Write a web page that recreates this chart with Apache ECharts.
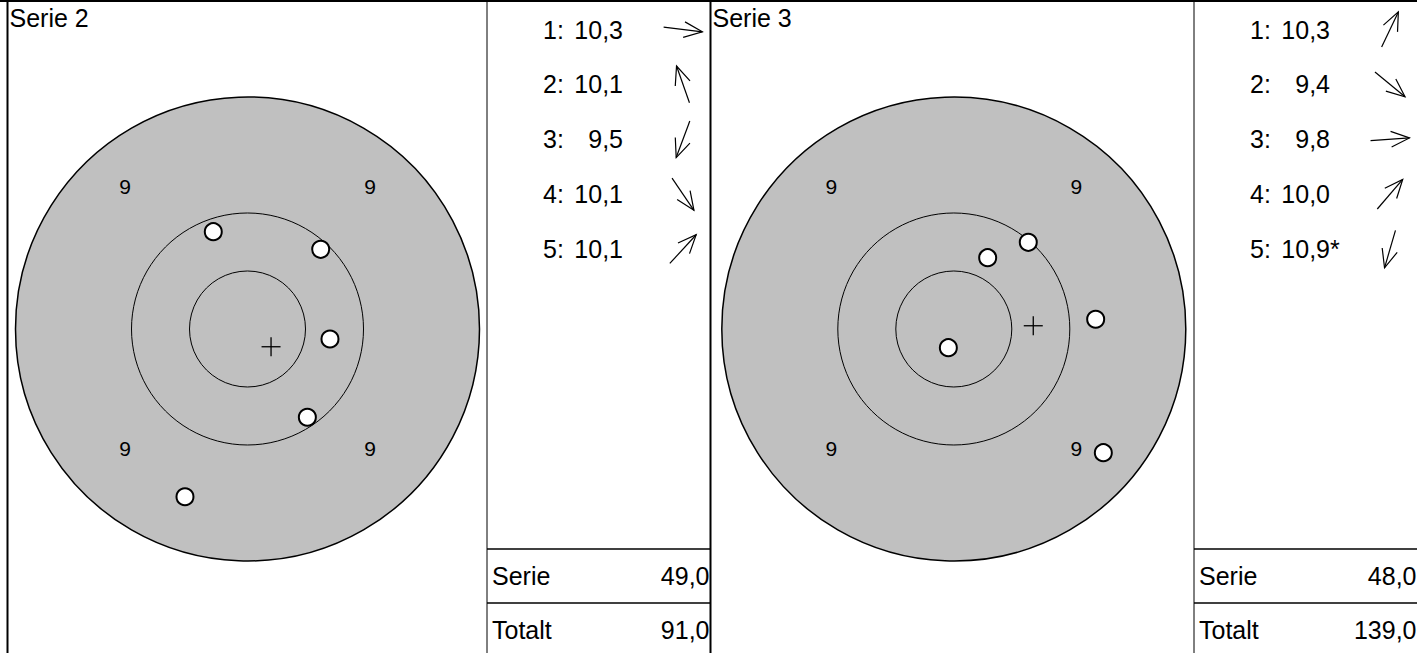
<!DOCTYPE html>
<html>
<head>
<meta charset="utf-8">
<script src="https://cdn.jsdelivr.net/npm/echarts@6/dist/echarts.min.js"></script>
<style>html,body{margin:0;padding:0;background:#fff}#c{width:1417px;height:653px}</style>
</head>
<body>
<div id="c"></div>
<script>
// ---- data (target units: one ring = 10 units) ----
const seriesTitles = ['Serie 2', 'Serie 3'];
const shotNo = ['1', '2', '3', '4', '5'];
const shotsX2 = [7.11, -2.95, -5.39, 5.16, 6.31];
const shotsY2 = [-0.86, 8.39, -14.46, -7.61, 6.87];
const scores2 = [10.3, 10.1, 9.5, 10.1, 10.1];
const innerTen2 = [0, 0, 0, 0, 0];
const mpi2 = [2.03, -1.53];
const shotsX3 = [2.92, 12.89, 12.23, 6.42, -0.47];
const shotsY3 = [6.15, -10.66, 0.84, 7.47, -1.61];
const scores3 = [10.3, 9.4, 9.8, 10.0, 10.9];
const innerTen3 = [0, 0, 0, 0, 1];
const mpi3 = [6.85, 0.28];
const ringRadii = [20, 10, 5];
const ringLabels = ['9', '9', '9', '9'];
const ringLabelX = [-10.56, 10.56, -10.56, 10.56];
const ringLabelY = [12.3, 12.3, -10.3, -10.3];
const sumLabels = ['Serie', 'Totalt'];
const serieSums = [49.0, 48.0];
const runningTotals = [91.0, 139.0];

const FONT = '"Liberation Sans", Arial, Helvetica, sans-serif';
const TS = 25;
const fmt = v => v.toFixed(1).replace('.', ',');

function ringsSeries(gi) {
  return {
    type: 'custom', xAxisIndex: gi, yAxisIndex: gi, clip: false, z: 1,
    data: ringRadii.map(r => [0, 0, r]),
    encode: { x: 0, y: 1 },
    renderItem: (params, api) => {
      const c = api.coord([0, 0]);
      const e = api.coord([api.value(2), 0]);
      const outer = params.dataIndex === 0;
      return { type: 'circle', shape: { cx: c[0], cy: c[1], r: Math.abs(e[0] - c[0]) },
        style: { fill: outer ? '#c0c0c0' : 'none', stroke: '#000', lineWidth: outer ? 1.5 : 1 } };
    }
  };
}
function ringLabelSeries(gi) {
  return {
    type: 'custom', xAxisIndex: gi, yAxisIndex: gi, clip: false, z: 2,
    data: ringLabels.map((t, i) => [ringLabelX[i], ringLabelY[i], t]),
    encode: { x: 0, y: 1 },
    renderItem: (params, api) => {
      const p = api.coord([api.value(0), api.value(1)]);
      return { type: 'text', style: { text: ringLabels[params.dataIndex], x: p[0], y: p[1],
        align: 'center', verticalAlign: 'middle', font: '21px ' + FONT, fill: '#000' } };
    }
  };
}
function shotSeries(gi, xs, ys) {
  return {
    type: 'scatter', xAxisIndex: gi, yAxisIndex: gi, z: 4, symbol: 'circle', symbolSize: 17,
    itemStyle: { color: '#fff', borderColor: '#000', borderWidth: 2, opacity: 1 },
    data: xs.map((x, i) => [x, ys[i]]), silent: true
  };
}
function mpiSeries(gi, m) {
  return {
    type: 'custom', xAxisIndex: gi, yAxisIndex: gi, clip: false, z: 3,
    data: [m], encode: { x: 0, y: 1 },
    renderItem: (params, api) => {
      const p = api.coord([api.value(0), api.value(1)]);
      const h = 9.5;
      return { type: 'group', children: [
        { type: 'line', shape: { x1: p[0] - h, y1: p[1], x2: p[0] + h, y2: p[1] }, style: { stroke: '#000', lineWidth: 1.3 } },
        { type: 'line', shape: { x1: p[0], y1: p[1] - h, x2: p[0], y2: p[1] + h }, style: { stroke: '#000', lineWidth: 1.3 } }
      ] };
    }
  };
}
function scoreSeries(gi, scores, xs, ys, inner) {
  return {
    type: 'custom', xAxisIndex: gi, yAxisIndex: gi, clip: false, z: 5,
    data: scores.map((s, i) => [0, i, s, xs[i], ys[i], inner[i]]),
    encode: { x: 0, y: 1 },
    renderItem: (params, api) => {
      const i = api.value(1);
      const p = api.coord([0, i]);
      const x0 = params.coordSys.x, y = p[1];
      const dx = api.value(3), dy = -api.value(4);
      const len = Math.hypot(dx, dy), ux = dx / len, uy = dy / len;
      const cx = x0 + 196, L = 39;
      const tip = [cx + ux * L / 2, y + uy * L / 2], tail = [cx - ux * L / 2, y - uy * L / 2];
      const a = 23 * Math.PI / 180, hl = 20, bx = -ux, by = -uy;
      const arm = s => [tip[0] + hl * (bx * Math.cos(s * a) - by * Math.sin(s * a)),
                        tip[1] + hl * (bx * Math.sin(s * a) + by * Math.cos(s * a))];
      const a1 = arm(1), a2 = arm(-1);
      const ls = { stroke: '#000', lineWidth: 1.2 };
      const font = TS + 'px ' + FONT;
      const kids = [
        { type: 'text', style: { text: shotNo[i] + ':', x: x0 + 56, y, align: 'left', verticalAlign: 'middle', font, fill: '#000' } },
        { type: 'text', style: { text: fmt(api.value(2)), x: x0 + 136, y, align: 'right', verticalAlign: 'middle', font, fill: '#000' } },
        { type: 'line', shape: { x1: tail[0], y1: tail[1], x2: tip[0], y2: tip[1] }, style: ls },
        { type: 'polyline', shape: { points: [a1, tip, a2] }, style: { stroke: '#000', lineWidth: 1.2, fill: 'none' } }
      ];
      if (api.value(5)) kids.push({ type: 'text', style: { text: '*', x: x0 + 136, y, align: 'left', verticalAlign: 'middle', font, fill: '#000' } });
      return { type: 'group', children: kids };
    }
  };
}

const targetCenters = [247.5, 953.8];
const tableLefts = [487, 1194];
const R = 232;
const grids = [
  { left: targetCenters[0] - R, top: 329 - R, width: 2 * R, height: 2 * R },
  { left: targetCenters[1] - R, top: 329 - R, width: 2 * R, height: 2 * R },
  { left: tableLefts[0], top: 2.05, width: 223, height: 274.5 },
  { left: tableLefts[1], top: 2.05, width: 223, height: 274.5 }
];
const xAxes = [0, 1, 2, 3].map(i => i < 2
  ? { gridIndex: i, type: 'value', min: -20, max: 20, show: false }
  : { gridIndex: i, type: 'value', min: 0, max: 1, show: false });
const yAxes = [0, 1, 2, 3].map(i => i < 2
  ? { gridIndex: i, type: 'value', min: -20, max: 20, show: false }
  : { gridIndex: i, type: 'category', data: shotNo, inverse: true, show: false });

const ln = (x1, y1, x2, y2, w) => ({ type: 'line', silent: true, z: 10, shape: { x1, y1, x2, y2 }, style: { stroke: '#000', lineWidth: w } });
const tx = (text, x, y, align, size) => ({ type: 'text', silent: true, z: 10, x, y,
  style: { text, align, verticalAlign: 'middle', font: size + 'px ' + FONT, fill: '#000' } });

const graphic = [
  ln(0, 1, 1417, 1, 2),
  ln(7.5, 0, 7.5, 653, 2),
  ln(487, 0, 487, 653, 1),
  ln(710.5, 0, 710.5, 653, 2),
  ln(1194, 0, 1194, 653, 1),
  ln(487, 549, 710.5, 549, 1.5), ln(487, 603, 710.5, 603, 1.5),
  ln(1194, 549, 1417, 549, 1.5), ln(1194, 603, 1417, 603, 1.5),
  tx(seriesTitles[0], 9.5, 18, 'left', TS),
  tx(seriesTitles[1], 712.5, 18, 'left', TS)
];
tableLefts.forEach((l, k) => {
  graphic.push(tx(sumLabels[0], l + 5, 576, 'left', TS));
  graphic.push(tx(fmt(serieSums[k]), l + 222.5, 576, 'right', TS));
  graphic.push(tx(sumLabels[1], l + 5, 630, 'left', TS));
  graphic.push(tx(fmt(runningTotals[k]), l + 222.5, 630, 'right', TS));
});

const chart = echarts.init(document.getElementById('c'), null, { renderer: 'svg' });
chart.setOption({
  backgroundColor: '#fff',
  animation: false,
  grid: grids,
  xAxis: xAxes,
  yAxis: yAxes,
  graphic,
  series: [
    ringsSeries(0), ringLabelSeries(0), mpiSeries(0, mpi2), shotSeries(0, shotsX2, shotsY2),
    ringsSeries(1), ringLabelSeries(1), mpiSeries(1, mpi3), shotSeries(1, shotsX3, shotsY3),
    scoreSeries(2, scores2, shotsX2, shotsY2, innerTen2),
    scoreSeries(3, scores3, shotsX3, shotsY3, innerTen3)
  ]
});
</script>
</body>
</html>
